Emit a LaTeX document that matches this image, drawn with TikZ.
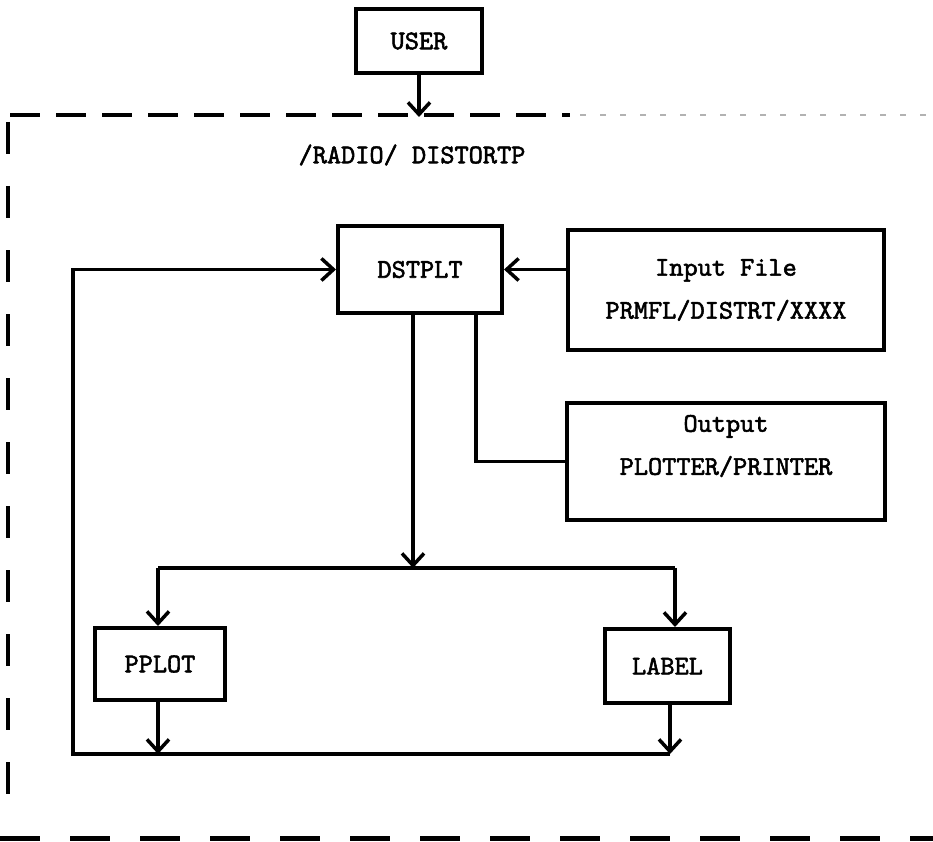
\documentclass[tikz,border=0pt]{standalone}
\usepackage{fontspec}
\usepackage{tikz}
\usetikzlibrary{arrows.meta,positioning,calc}
\newfontfamily\typer{lmmono10-regular.otf}[FakeBold=2]

\begin{document}
\begin{tikzpicture}[x=1pt,y=-1pt,
    box/.style={draw,line width=4pt,inner sep=0pt},
    txt/.style={font=\fontsize{27}{43}\selectfont\typer,align=center},
    con/.style={line width=3.5pt},
    arr/.style={con,-{Straight Barb[length=12pt,width=22pt]}}]
  \useasboundingbox (0,0) rectangle (933,842);
  % Dashed boundary of the program
  \draw[line width=3.5pt,dash pattern=on 30pt off 16pt] (10,115) -- (570,115);
  \draw[gray!60,line width=2pt,dash pattern=on 6pt off 14pt] (580,115) -- (933,115);
  \draw[line width=3.5pt,dash pattern=on 32pt off 32pt] (8,122) -- (8,815);
  \draw[line width=5pt,dash pattern=on 40pt off 30pt] (0,838) -- (933,838);
  \node[txt] (prog) at (412,155) {/RADIO/ DISTORTP};
  % Boxes
  \node[box,txt,minimum width=126,minimum height=64] (user) at (419,41) {USER};
  \node[box,txt,minimum width=164,minimum height=87] (dst) at (420,269.5) {DSTPLT};
  \node[box,txt,minimum width=316,minimum height=120] (input) at (726,290)
    {Input File\\PRMFL/DISTRT/XXXX};
  \node[box,minimum width=318,minimum height=117] (output) at (726,461.5) {};
  \node[txt] (outlbl) at (726,446) {Output\\PLOTTER/PRINTER};
  \node[box,txt,minimum width=130,minimum height=72] (ppl) at (160,664) {PPLOT};
  \node[box,txt,minimum width=125,minimum height=74] (lab) at (667.5,666) {LABEL};
  % Junction points
  \coordinate (entry) at (419,117);
  \coordinate (split) at (413,568);
  \coordinate (brl) at (158,568);
  \coordinate (brr) at (675,568);
  \coordinate (tap) at (476,461.5);
  \coordinate (fbl) at (73,754);
  \coordinate (fbr) at (670,754);
  % Connectors
  \draw[arr] (user) -- (entry);
  \draw[arr] (input.west |- dst.east) -- (dst.east);
  \draw[arr] (dst.south -| split) -- (split);
  \draw[con] (dst.south -| tap) |- (output.west);
  \draw[con] (brl) -- (brr);
  \draw[arr] (brl) -- (brl |- ppl.north);
  \draw[arr] (brr) -- (brr |- lab.north);
  \draw[arr] (brl |- ppl.south) -- (brl |- fbl);
  \draw[arr] (fbr |- lab.south) -- (fbr);
  \draw[arr] (fbr) -- (fbl) |- (dst.west);
\end{tikzpicture}
\end{document}
